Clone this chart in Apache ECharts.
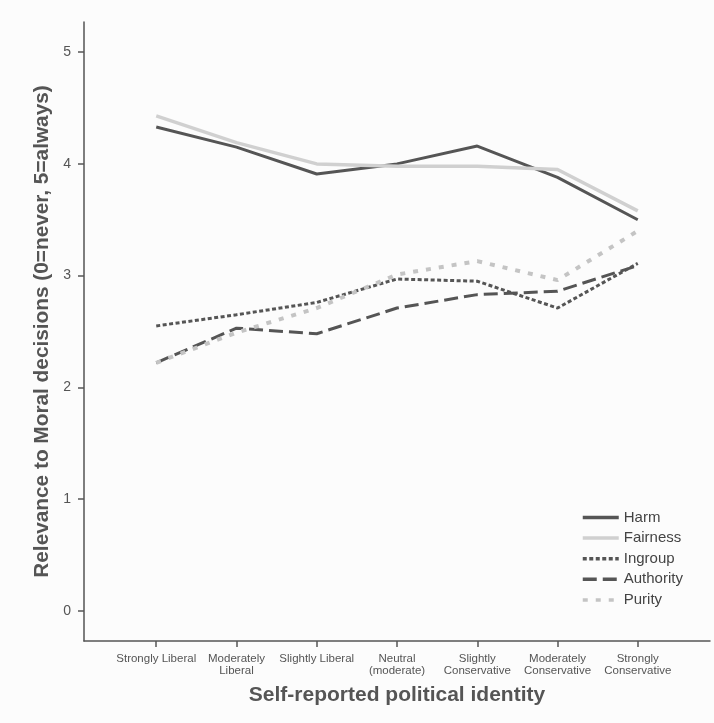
<!DOCTYPE html>
<html>
<head>
<meta charset="utf-8">
<script src="https://cdn.jsdelivr.net/npm/echarts@6/dist/echarts.min.js"></script>
<style>html,body{margin:0;padding:0;background:#fcfcfc}#c{width:714px;height:723px}</style>
</head>
<body>
<div id="c"></div>
<script>
var categories = ['Strongly Liberal', 'Moderately\nLiberal', 'Slightly Liberal', 'Neutral\n(moderate)', 'Slightly\nConservative', 'Moderately\nConservative', 'Strongly\nConservative'];
var harm      = [4.33, 4.15, 3.91, 4.00, 4.16, 3.88, 3.50];
var fairness  = [4.43, 4.19, 4.00, 3.98, 3.98, 3.95, 3.58];
var ingroup   = [2.55, 2.65, 2.76, 2.97, 2.95, 2.71, 3.11];
var authority = [2.22, 2.53, 2.48, 2.71, 2.83, 2.86, 3.09];
var purity    = [2.22, 2.49, 2.71, 3.01, 3.13, 2.96, 3.40];
var yTicks = [0, 1, 2, 3, 4, 5];

function pairs(arr){ return arr.map(function(v,i){ return [i, v]; }); }
var xIdx = categories.map(function(_, i){ return i; });
var font = 'Liberation Sans, Arial, sans-serif';
var dark = '#555555';

var chart = echarts.init(document.getElementById('c'));
chart.setOption({
  backgroundColor: '#fcfcfc',
  animation: false,
  grid: { left: 84, right: 4, top: 22, bottom: 82 },
  xAxis: {
    type: 'value', min: -0.9, max: 6.9,
    name: 'Self-reported political identity',
    nameLocation: 'middle', nameGap: 44,
    nameTextStyle: { fontFamily: font, fontSize: 21, fontWeight: 'bold', color: '#555' },
    axisLine: { show: true, onZero: false, lineStyle: { color: dark, width: 1.5 } },
    axisTick: { show: true, length: 6, lineStyle: { color: dark, width: 1.5 }, customValues: xIdx },
    axisLabel: { customValues: xIdx, fontFamily: font, fontSize: 11.5, color: '#555', margin: 12, lineHeight: 12,
      formatter: function(v){ return categories[Math.round(v)]; } },
    splitLine: { show: false }
  },
  yAxis: {
    type: 'value', min: -0.27, max: 5.27,
    name: 'Relevance to Moral decisions (0=never, 5=always)',
    nameLocation: 'middle', nameGap: 26,
    nameTextStyle: { fontFamily: font, fontSize: 20.8, fontWeight: 'bold', color: '#555' },
    axisLine: { show: true, onZero: false, lineStyle: { color: dark, width: 1.5 } },
    axisTick: { show: true, length: 6, lineStyle: { color: dark, width: 1.5 }, customValues: yTicks },
    axisLabel: { customValues: yTicks, fontFamily: font, fontSize: 14, color: '#555', margin: 13 },
    splitLine: { show: false }
  },
  legend: {
    orient: 'vertical', left: 576, top: 505,
    itemWidth: 36, itemHeight: 14, itemGap: 5.6,
    itemStyle: { opacity: 0 },
    lineStyle: { width: 3.5 },
    textStyle: { fontFamily: font, fontSize: 15, color: '#444' },
    data: ['Harm', 'Fairness', 'Ingroup', 'Authority', 'Purity']
  },
  series: [
    { name: 'Harm', type: 'line', symbol: 'none', data: pairs(harm),
      lineStyle: { color: '#555', width: 3 }, itemStyle: { color: '#555' } },
    { name: 'Fairness', type: 'line', symbol: 'none', data: pairs(fairness),
      lineStyle: { color: '#d0d0d0', width: 3.5 }, itemStyle: { color: '#d0d0d0' } },
    { name: 'Ingroup', type: 'line', symbol: 'none', data: pairs(ingroup),
      lineStyle: { color: '#555', width: 3, type: [4, 2.5] }, itemStyle: { color: '#555' } },
    { name: 'Authority', type: 'line', symbol: 'none', data: pairs(authority),
      lineStyle: { color: '#555', width: 3, type: [14, 6] }, itemStyle: { color: '#555' } },
    { name: 'Purity', type: 'line', symbol: 'none', data: pairs(purity),
      lineStyle: { color: '#c4c4c4', width: 4, type: [5, 8] }, itemStyle: { color: '#c4c4c4' } }
  ]
});
</script>
</body>
</html>
